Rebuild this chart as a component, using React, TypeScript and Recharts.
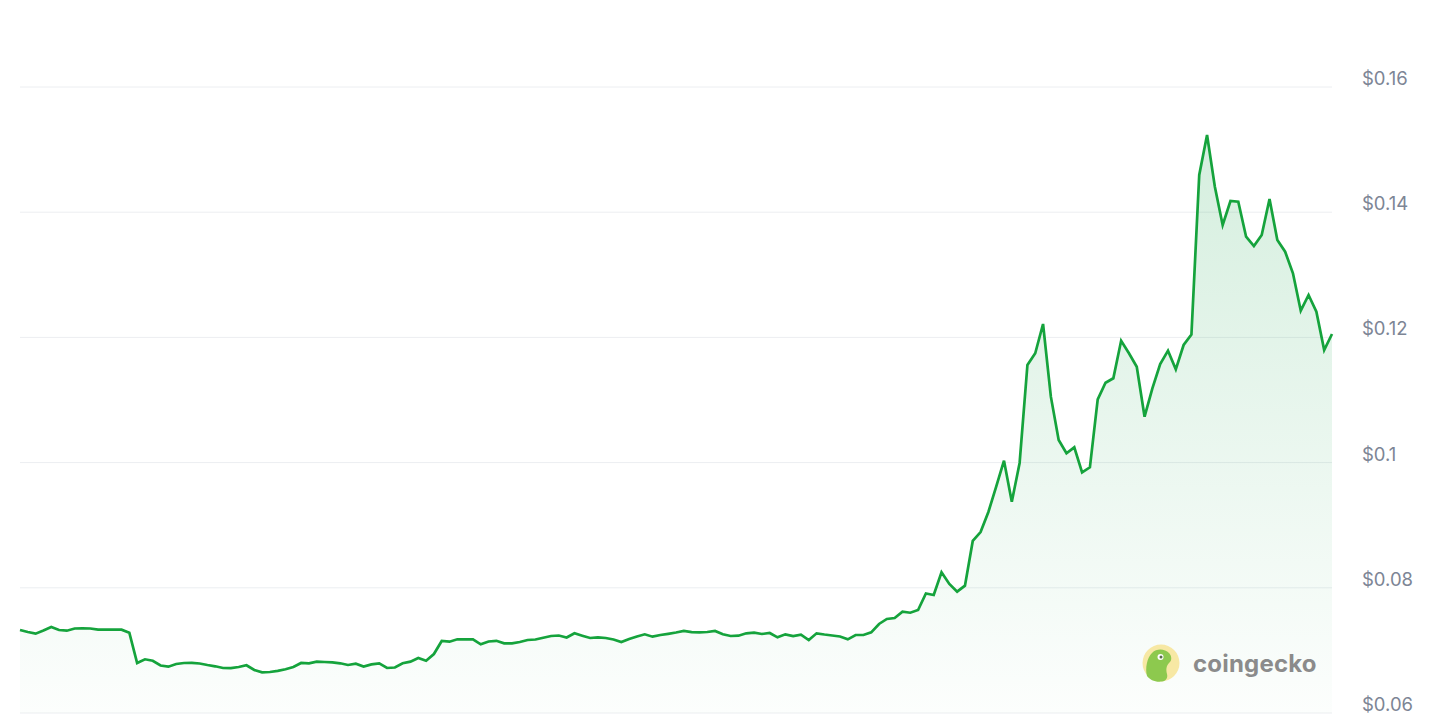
import React from 'react';
import { AreaChart, Area, XAxis, YAxis, CartesianGrid } from 'recharts';

// hourly price, 7 days (169 points)
const prices = [
  0.07326, 0.07294, 0.07267, 0.07318, 0.07374, 0.07326, 0.07315, 0.0735, 0.07353, 0.0735,
  0.07331, 0.07331, 0.07331, 0.07331, 0.07283, 0.06799, 0.06858, 0.06835, 0.06759, 0.0674,
  0.06783, 0.06799, 0.068, 0.06791, 0.06767, 0.06746, 0.06719, 0.06716, 0.06735, 0.06762,
  0.06687, 0.0665, 0.06655, 0.06674, 0.06698, 0.06735, 0.06799, 0.06794, 0.0682, 0.06815,
  0.06808, 0.06794, 0.06767, 0.06788, 0.06741, 0.06776, 0.06794, 0.06719, 0.06727, 0.06794,
  0.0682, 0.06879, 0.06835, 0.06942, 0.0715, 0.07139, 0.07177, 0.07177, 0.07177, 0.07097,
  0.07142, 0.07153, 0.07113, 0.07113, 0.07134, 0.07166, 0.07174, 0.07203, 0.0723, 0.07238,
  0.07206, 0.07273, 0.07235, 0.07198, 0.07209, 0.07198, 0.07174, 0.07134, 0.07182, 0.07222,
  0.07257, 0.07219, 0.07246, 0.07265, 0.07286, 0.0731, 0.07291, 0.07289, 0.07294, 0.0731,
  0.07257, 0.0723, 0.07235, 0.07273, 0.07283, 0.07262, 0.07278, 0.07209, 0.07257, 0.0723,
  0.07251, 0.07166, 0.07273, 0.07254, 0.07238, 0.07222, 0.07177, 0.07246, 0.07246, 0.07289,
  0.07422, 0.07502, 0.07518, 0.07618, 0.07602, 0.07645, 0.07909, 0.07885, 0.08248, 0.08061,
  0.07938, 0.08034, 0.08748, 0.08891, 0.09211, 0.09615, 0.1003, 0.09375, 0.09994, 0.11559,
  0.11746, 0.12214, 0.11053, 0.10361, 0.10149, 0.10244, 0.09845, 0.09925, 0.11011, 0.11276,
  0.11347, 0.11947, 0.11746, 0.11532, 0.10733, 0.11187, 0.11575, 0.11788, 0.1149, 0.11879,
  0.12046, 0.14594, 0.15233, 0.14407, 0.13796, 0.14179, 0.14168, 0.13609, 0.1346, 0.13636,
  0.14211, 0.13556, 0.13369, 0.13024, 0.12427, 0.12677, 0.12411, 0.11799, 0.12054,
];

const yTicks = [0.06, 0.08, 0.1, 0.12, 0.14, 0.16];

const data = prices.map((price, i) => ({ i, price }));

const PriceTick = ({ x, y, payload }: any) => (
  <text
    x={x}
    y={y - 10}
    dy={8}
    textAnchor="start"
    fill="#7d8595"
    fontSize={18.5}
    fontFamily="Inter, sans-serif"
  >
    {`$${payload.value}`}
  </text>
);

const GeckoMark = () => (
  <div
    style={{
      position: 'absolute',
      left: 1142,
      top: 643,
      display: 'flex',
      alignItems: 'center',
      gap: 13,
      pointerEvents: 'none',
    }}
  >
    <svg width={38} height={40} viewBox="0 0 38 40">
      <circle cx={19} cy={20} r={18.5} fill="#f7e8a4" />
      <path
        d="M5 33 C3 25 5 15 10 10 C15 5 23 6 27 10 C30 13 30 18 27 20 C24 23 24 27 25 31 C26 35 24 38 20 38.6 C13 39.4 8 37 5 33 Z"
        fill="#8dc94e"
      />
      <circle cx={18.5} cy={14} r={3} fill="#ffffff" />
      <circle cx={19} cy={14} r={1.5} fill="#5a6b4a" />
    </svg>
    <span
      style={{
        fontFamily: 'Inter, sans-serif',
        fontWeight: 700,
        fontSize: 24,
        color: '#8b8b8b',
        letterSpacing: 0.2,
      }}
    >
      coingecko
    </span>
  </div>
);

export default function App() {
  return (
    <div style={{ position: 'absolute', left: 0, top: 0, width: 1440, height: 719, background: '#fff' }}>
      <AreaChart width={1440} height={719} data={data} margin={{ top: 87, right: 0, bottom: 6, left: 20 }}>
        <defs>
          <linearGradient id="priceFill" x1="0" y1="0" x2="0" y2="1">
            <stop offset="0%" stopColor="#16a34a" stopOpacity={0.3} />
            <stop offset="100%" stopColor="#16a34a" stopOpacity={0.02} />
          </linearGradient>
        </defs>
        <CartesianGrid vertical={false} stroke="#eceef1" strokeWidth={1} />
        <XAxis dataKey="i" hide />
        <YAxis
          orientation="right"
          width={108}
          domain={[0.06, 0.16]}
          ticks={yTicks}
          interval={0}
          axisLine={false}
          tickLine={false}
          tickSize={0}
          tickMargin={30}
          tick={<PriceTick />}
        />
        <Area
          type="linear"
          dataKey="price"
          stroke="#15a33c"
          strokeWidth={2.7}
          fill="url(#priceFill)"
          baseValue={0.06}
          dot={false}
          activeDot={false}
          isAnimationActive={false}
        />
      </AreaChart>
      <GeckoMark />
    </div>
  );
}
